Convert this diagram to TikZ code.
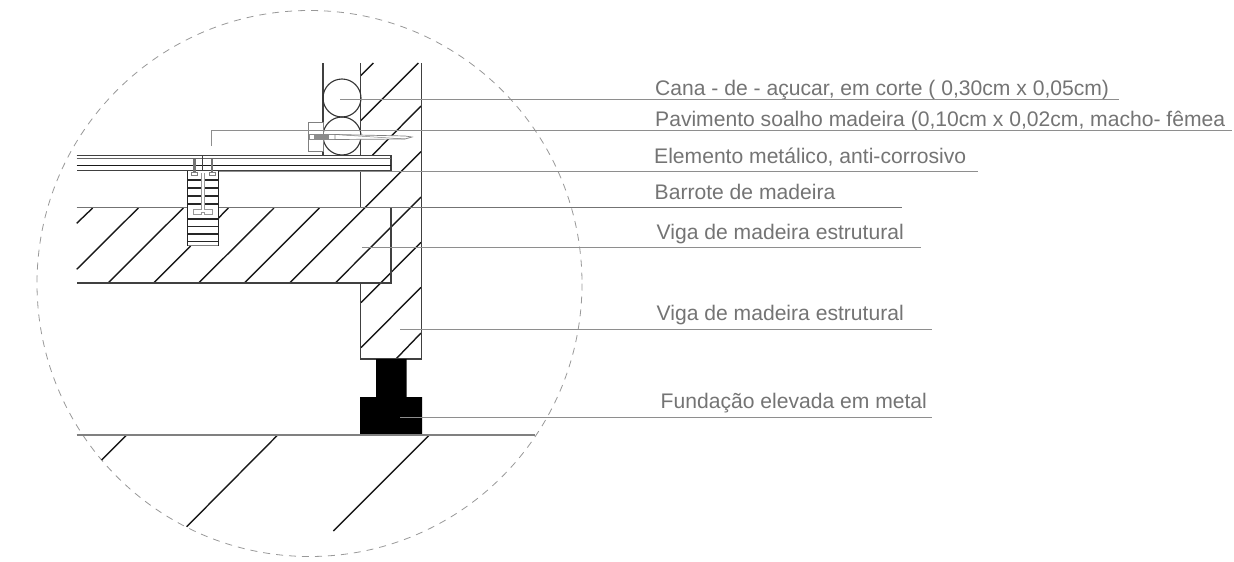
\documentclass[tikz,border=0pt]{standalone}
\usepackage{fontspec}
\setmainfont{Liberation Sans}
\definecolor{lab}{HTML}{747474}
\definecolor{lead}{HTML}{8E8E8E}
\definecolor{edge}{HTML}{404040}
\tikzset{
 hatch/.style={line width=1.4pt,black!90},
 outl/.style={line width=1.2pt,edge},
 leader/.style={line width=1.3pt,lead},
 lbl/.style={anchor=base west,inner sep=0pt,text=lab,font=\fontsize{21.1}{24}\selectfont},
}
\begin{document}
\begin{tikzpicture}[x=1pt,y=-1pt]
\useasboundingbox (0,0) rectangle (1234,562);
\fill[white] (0,0) rectangle (1234,562);
% dashed circle
\draw[line width=.8pt,black!40,dash pattern=on 7pt off 6pt] (309.5,283.5) ellipse [x radius=272.5,y radius=273];
% hatching
\foreach \a/\b/\c/\d in {
 76.7/223.3/92.7/208, 76.7/269.3/138.3/208, 107.7/283.3/183.3/208, 153.3/283.3/190.7/246,
 198.3/283.3/274/208, 244/283.3/319.3/208, 289.3/283.3/421/151.7, 335/283.3/421/197,
 361/302.7/421/242.3, 361/347.7/421/287.3, 396/359/421/333,
 360.7/75.7/373.3/63, 360.7/120.7/418.3/63, 372.3/155.3/421/106,
 218.3/218.3/228.3/208,
 126.7/435/101.7/460, 277.7/435/186.7/526.7, 429.3/435/333.3/531}
 {\draw[hatch] (\a,\b) -- (\c,\d);}
% wall
\draw[outl] (323,63) -- (323,155);
\draw[outl] (360.5,63) -- (360.5,208);
\draw[outl] (360.5,283) -- (360.5,359) -- (421.5,359) -- (421.5,63);
% cane circles
\draw[line width=1.1pt,black!80] (342,98) circle [radius=19];
\draw[line width=1.1pt,black!80] (342,136) circle [radius=19];
% beam
\draw[outl] (391,208) -- (391,283) -- (76.5,283);
% boards
\fill[white] (76.5,155) rectangle (391,170.5);
\draw[line width=1.2pt,edge] (76.5,155.5) -- (391,155.5) -- (391,170.5) -- (76.5,170.5);
\draw[line width=.9pt,black!60] (76.5,158.5) -- (391,158.5);
\draw[line width=1.8pt,black!90] (76.5,165.5) -- (391,165.5);
% foundation
\fill[black] (376,359) -- (406.5,359) -- (406.5,397) -- (422,397) -- (422,435) -- (360,435) -- (360,397) -- (376,397) -- cycle;
% ground
\draw[line width=1.6pt,black!50] (76.5,435) -- (535,435);
% leaders behind the joist
\coordinate (a4) at (76.5,207.5); \coordinate (b4) at (902,207.5);
\draw[leader,line width=1.6pt,black!55] (a4) -- (b4);
% joist
\fill[white] (187.7,171) rectangle (218.3,245.7);
\foreach \y in {180,188,196,204}{\draw[line width=1.3pt,black!85] (187.7,\y) -- (201,\y) (204.3,\y) -- (218.3,\y);}
\foreach \y in {219,226.5,234,241.5}{\draw[line width=1.3pt,black!85] (187.7,\y) -- (218.3,\y);}
\draw[line width=1.3pt,black!85] (187.7,171) -- (187.7,245.7) (218.3,171) -- (218.3,245.7);
\draw[line width=1pt,black!50] (187.7,245.7) -- (218.3,245.7);
% joint piece
\draw[line width=.9pt,black!40,fill=white] (201,173) -- (201,209.5) -- (193.7,209.5) -- (193.7,214.5) -- (201,214.5) -- (201,212) -- (204.3,212) -- (204.3,214.5) -- (212,214.5) -- (212,209.5) -- (204.3,209.5) -- (204.3,173);
\fill[black!55] (193.3,158.5) rectangle (195.7,172);
\fill[black!55] (211,158.5) rectangle (213.3,172);
\draw[line width=.6pt,black!50] (191.5,172) rectangle (197,175);
\draw[line width=.6pt,black!50] (209.5,172) rectangle (215,175);
\draw[line width=1pt,black!75] (202.7,155) -- (202.7,171);
% screw
\draw[line width=.8pt,black!50,fill=white] (308.5,122.5) rectangle (323,151.5);
\draw[line width=.6pt,black!45,fill=white] (309,134.5) rectangle (335,139.5);
\fill[black!45] (314,134.5) rectangle (329,139.5);
\draw[line width=.7pt,black!50,fill=white] (335,134.5) -- (405,136) -- (412,137) -- (405,139) -- (335,139.5) -- cycle;
\draw[line width=.5pt,black!50] (335,134.5) -- (405,139);
% labels
\node[lbl] (t1) at (655,95) {Cana - de - açucar, em corte ( 0,30cm x 0,05cm)};
\node[lbl] (t2) at (655,126) {Pavimento soalho madeira (0,10cm x 0,02cm, macho- fêmea};
\node[lbl] (t3) at (654,163.5) {Elemento metálico, anti-corrosivo};
\node[lbl] (t4) at (654.5,199) {Barrote de madeira};
\node[lbl] (t5) at (656.5,239) {Viga de madeira estrutural};
\node[lbl] (t6) at (656.5,320) {Viga de madeira estrutural};
\node[lbl] (t7) at (660.5,408) {Fundação elevada em metal};
% leaders
\coordinate (a1) at (340,99.3); \coordinate (b1) at (1119,99.3);
\coordinate (a2) at (211,146); \coordinate (m2) at (211,130.4); \coordinate (b2) at (1232,130.4);
\coordinate (a3) at (219,171.3); \coordinate (b3) at (978,171.3);
\coordinate (a5) at (362,247.3); \coordinate (b5) at (921,247.3);
\coordinate (a6) at (400,329.8); \coordinate (b6) at (931.5,329.8);
\coordinate (a7) at (400,417.3); \coordinate (b7) at (931.5,417.3);
\draw[leader] (a1) -- (b1);
\draw[leader,line width=1pt] (a2) -- (m2) -- (b2);
\draw[leader] (a3) -- (b3);
\draw[leader] (a5) -- (b5);
\draw[leader] (a6) -- (b6);
\draw[leader] (a7) -- (b7);
\end{tikzpicture}
\end{document}
